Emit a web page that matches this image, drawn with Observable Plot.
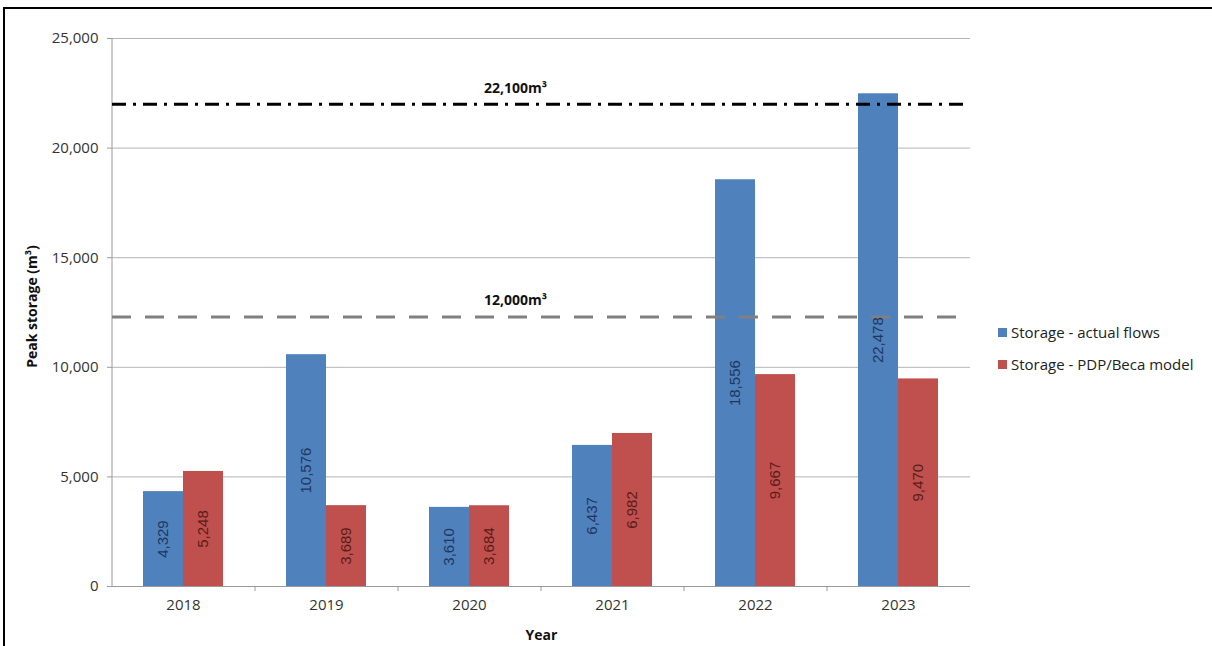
<!DOCTYPE html>
<html><head><meta charset="utf-8">
<script src="https://cdn.jsdelivr.net/npm/d3@7"></script>
<script src="https://cdn.jsdelivr.net/npm/@observablehq/plot@0.6"></script>
<style>
body{margin:0;background:#fff;}
#wrap{position:relative;width:1212px;height:646px;overflow:hidden;background:#fff;}
#border{position:absolute;left:3px;top:7px;width:1220px;height:660px;border-left:2px solid #000;border-top:2px solid #000;pointer-events:none;}
#chart{position:absolute;left:0;top:0;}
#legend{position:absolute;left:998px;top:316px;font-family:"Open Sans",Lato,sans-serif;font-size:15px;color:#222;}
#legend .item{display:flex;align-items:center;height:32px;}
#legend .sw{width:9px;height:9px;margin-right:4px;}
</style></head>
<body>
<div id="wrap"><div id="chart"></div><div id="legend"></div><div id="border"></div></div>
<script>
const years = ["2018","2019","2020","2021","2022","2023"];
const actualFlows = [4329,10576,3610,6437,18556,22478];
const pdpModel = [5248,3689,3684,6982,9667,9470];
const seriesNames = ["Storage - actual flows","Storage - PDP/Beca model"];
const seriesColors = ["#4F81BD","#C0504D"];
const labelColors = ["#1F3760","#5A1C1A"];
const yTicks = [0,5000,10000,15000,20000,25000];
const refValues = [22000, 12300];
const refLabels = ["22,100m³","12,000m³"];
const refColors = ["#000000","#808080"];
const refDash = ["14,7,3,7","19,14"];
const xTitle = "Year";
const yTitle = "Peak storage (m³)";

const rowsA = years.map((y,i)=>({year:y, series:seriesNames[0], value:actualFlows[i]}));
const rowsB = years.map((y,i)=>({year:y, series:seriesNames[1], value:pdpModel[i]}));
const refs = refValues.map((v,i)=>({value:v, label:refLabels[i]}));
const fmt = d3.format(",");
const font = "'Open Sans', Lato, sans-serif";
const barFont = "Liberation Sans, Arial, sans-serif";

const axisLines = (index, scales, values, dims) => {
  const {marginLeft, marginRight, marginTop, marginBottom, width, height} = dims;
  const g = d3.create("svg:g");
  g.append("line").attr("x1", marginLeft).attr("x2", marginLeft)
    .attr("y1", marginTop).attr("y2", height - marginBottom).attr("stroke", "#9A9A9A");
  const y0 = scales.y(0);
  const step = (width - marginLeft - marginRight) / years.length;
  for (let i = 1; i < years.length; i++) {
    const x = marginLeft + i * step;
    g.append("line").attr("x1", x).attr("x2", x).attr("y1", y0).attr("y2", y0 + 5).attr("stroke", "#9A9A9A");
  }
  return g.node();
};

const chart = Plot.plot({
  width: 1212, height: 646,
  marginLeft: 112, marginRight: 242, marginTop: 38, marginBottom: 60,
  style: {fontFamily: font, fontSize: "15px", color: "#333", background: "transparent"},
  x: {domain: years, paddingInner: 0.44, paddingOuter: 0.22, label: null},
  y: {domain: [0, 25000], label: null},
  marks: [
    Plot.gridY(yTicks, {stroke: "#B4B4B4", strokeOpacity: 1}),
    Plot.barY(rowsA, {x: "year", y: "value", fill: seriesColors[0], insetRight: 40}),
    Plot.barY(rowsB, {x: "year", y: "value", fill: seriesColors[1], insetLeft: 40}),
    Plot.ruleY([0], {stroke: "#9A9A9A"}),
    axisLines,
    Plot.ruleY([refs[0]], {y: "value", stroke: refColors[0], strokeWidth: 3, strokeDasharray: refDash[0]}),
    Plot.ruleY([refs[1]], {y: "value", stroke: refColors[1], strokeWidth: 3, strokeDasharray: refDash[1]}),
    Plot.text(refs, {y: "value", text: "label", frameAnchor: "middle", dx: -26, dy: -16, fontWeight: "bold", fontSize: 14, fill: "#111"}),
    Plot.text(rowsA, {x: "year", y: d => d.value / 2, text: d => fmt(d.value), rotate: -90, dx: -20, fill: labelColors[0], fontSize: 15, fontFamily: barFont}),
    Plot.text(rowsB, {x: "year", y: d => d.value / 2, text: d => fmt(d.value), rotate: -90, dx: 20, fill: labelColors[1], fontSize: 15, fontFamily: barFont}),
    Plot.axisY(yTicks, {tickSize: 5, tickPadding: 9, tickFormat: d => fmt(d), stroke: "#9A9A9A", fill: "#333", fontSize: 15, label: null}),
    Plot.axisX({tickSize: 0, tickPadding: 13, fill: "#333", fontSize: 15, label: null}),
    Plot.text([yTitle], {frameAnchor: "left", textAnchor: "middle", dx: -80, dy: -6, rotate: -90, fontWeight: "bold", fontSize: 14, fill: "#111"}),
    Plot.text([xTitle], {frameAnchor: "bottom", dy: 53, fontWeight: "bold", fontSize: 14, fill: "#111"})
  ]
});
document.getElementById("chart").appendChild(chart);

const leg = document.getElementById("legend");
seriesNames.forEach((n,i)=>{
  const it = document.createElement("div"); it.className = "item";
  const sw = document.createElement("div"); sw.className = "sw"; sw.style.background = seriesColors[i];
  const t = document.createElement("span"); t.textContent = n;
  it.appendChild(sw); it.appendChild(t); leg.appendChild(it);
});
</script>
</body></html>
